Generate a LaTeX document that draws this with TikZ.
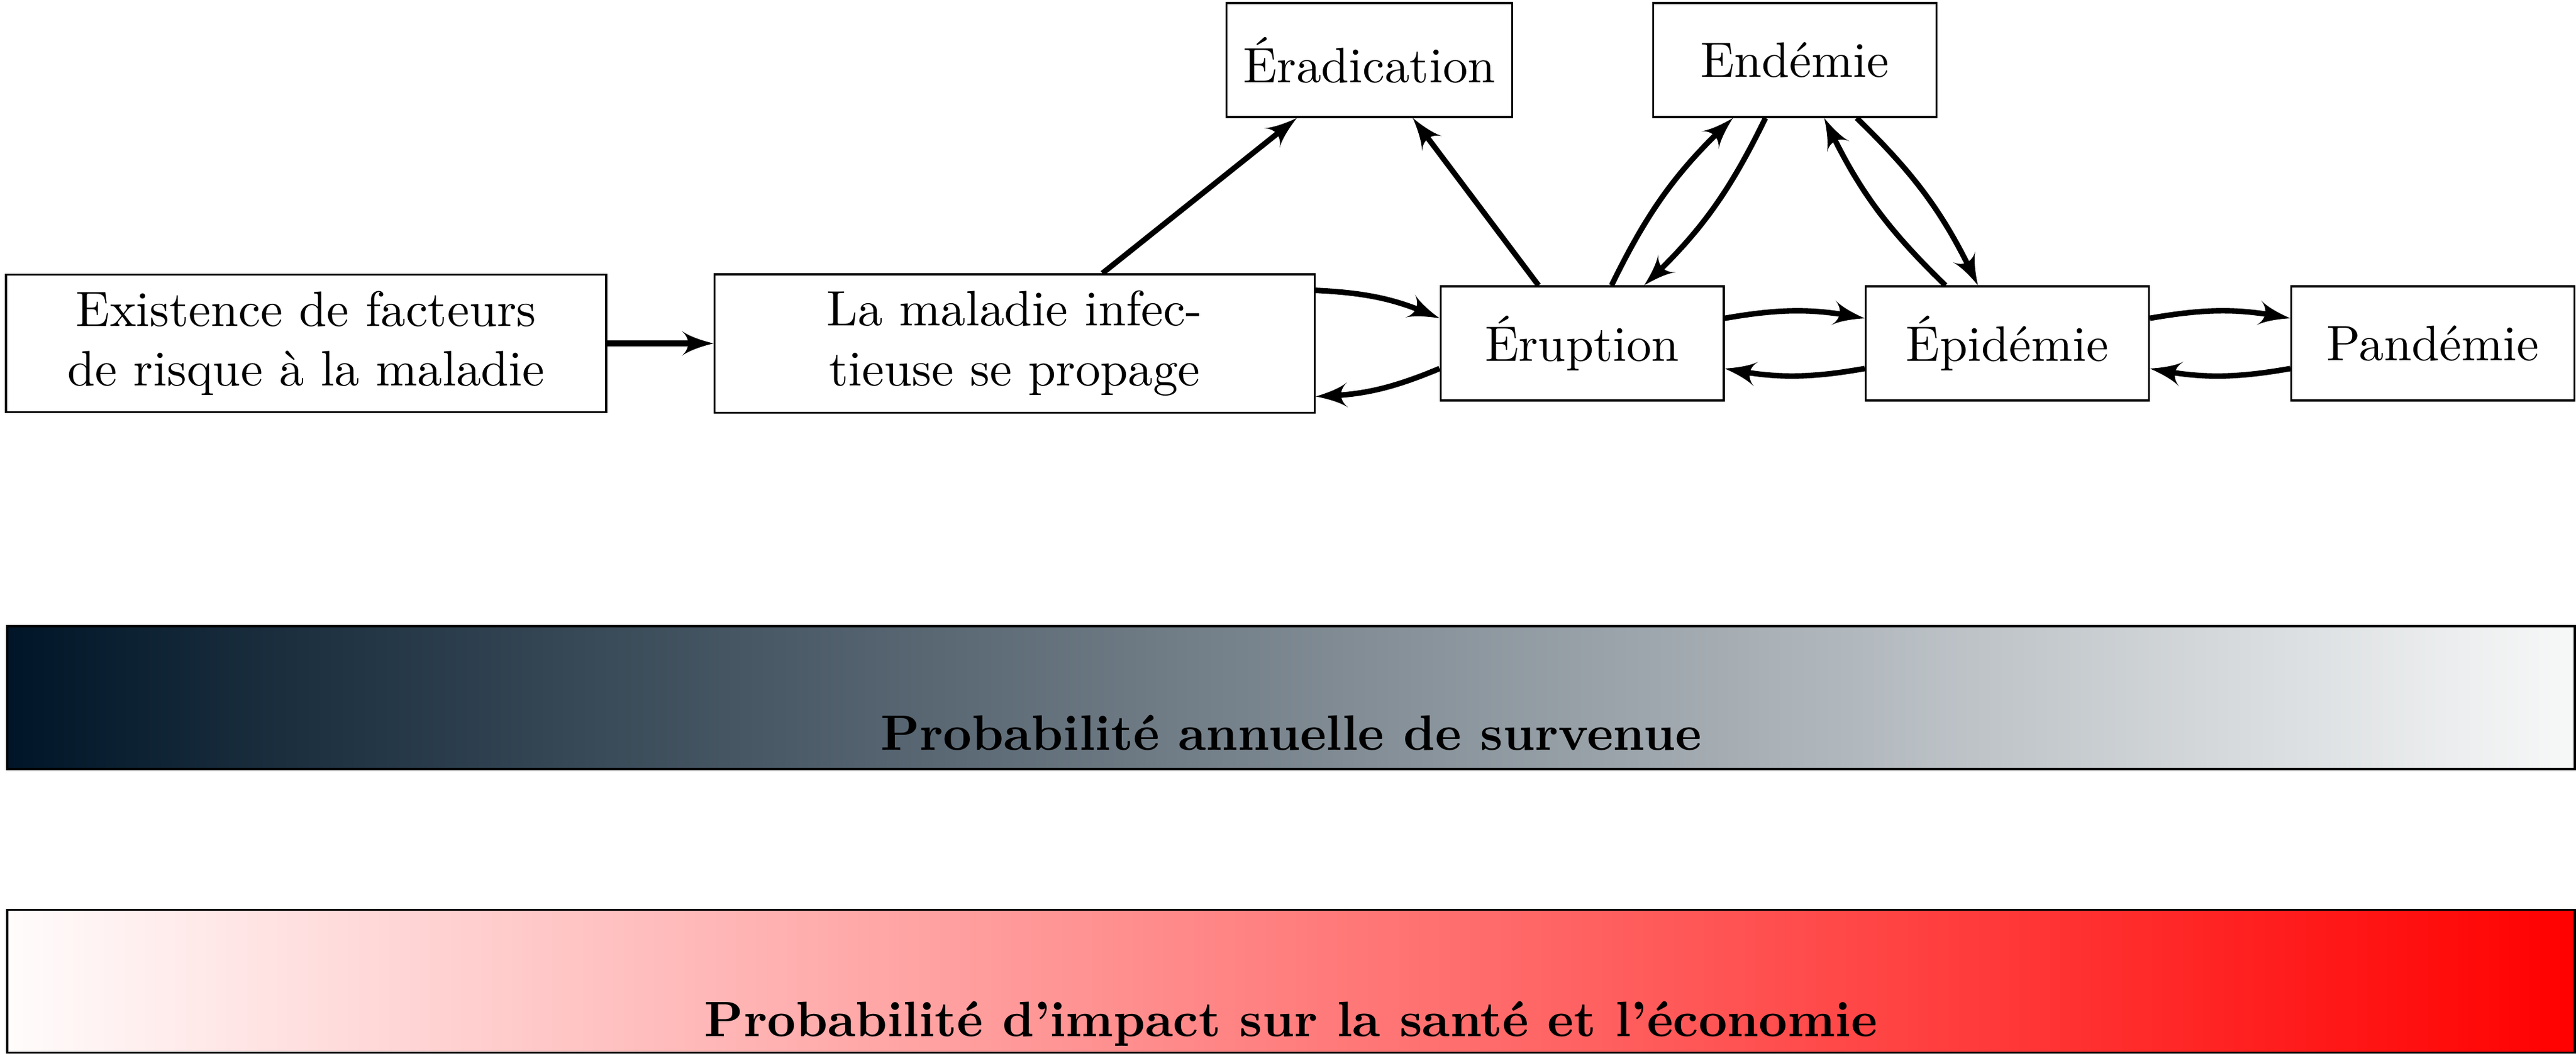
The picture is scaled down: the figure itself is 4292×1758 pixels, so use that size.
\documentclass[tikz,border=0pt]{standalone}
\usepackage{fontspec}
\usetikzlibrary{arrows}
\definecolor{navydark}{RGB}{0,22,40}
\definecolor{palegrey}{RGB}{247,248,248}
\definecolor{palered}{RGB}{255,252,252}
\pgfarrowsdeclare{cstealth}{cstealth}
{\pgfarrowsleftextend{-3.4pt}\pgfarrowsrightextend{3pt}}
{%
  \pgfsetdash{}{0pt}%
  \pgfpathmoveto{\pgfpoint{3pt}{0pt}}%
  \pgfpathcurveto{\pgfpoint{1.5pt}{0.35pt}}{\pgfpoint{-1.6pt}{1.2pt}}{\pgfpoint{-3.4pt}{2.5pt}}%
  \pgfpathcurveto{\pgfpoint{-1.7pt}{1pt}}{\pgfpoint{-1.7pt}{-1pt}}{\pgfpoint{-3.4pt}{-2.5pt}}%
  \pgfpathcurveto{\pgfpoint{-1.6pt}{-1.2pt}}{\pgfpoint{1.5pt}{-0.35pt}}{\pgfpoint{3pt}{0pt}}%
  \pgfpathclose
  \pgfusepathqfill
}
\tikzset{
  box/.style={draw, line width=0.4pt, align=center},
  bigbox/.style={box, minimum width=120.6pt, minimum height=27.6pt},
  smallbox/.style={box, minimum width=56.9pt, minimum height=22.9pt},
  arr/.style={line width=1.1pt, -cstealth},
  bar/.style={draw, line width=0.4pt, minimum width=516.1pt, minimum height=28.7pt, inner sep=0pt},
  barlabel/.style={anchor=base, font=\bfseries},
}
\begin{document}
\begin{tikzpicture}[x=0.12063pt, y=0.12063pt]
\useasboundingbox (0,0) rectangle (4292,-1758);
% top row
\node[bigbox] (exist) at (510,-572) {Existence de facteurs\\de risque à la maladie};
\node[bigbox] (maladie) at (1690.5,-572) {La maladie infec-\\tieuse se propage};
\node[smallbox] (erup) at (2636,-572) {Éruption};
\node[smallbox] (epid) at (3344.5,-572) {Épidémie};
\node[smallbox] (pand) at (4053.5,-572) {Pandémie};
\node[smallbox] (erad) at (2281.5,-100) {Éradication};
\node[smallbox] (endem) at (2990.5,-100) {Endémie};
% connectors
\draw[arr] (exist) -- (maladie);
\draw[arr] (maladie) -- (erad);
\draw[arr] (erup) -- (erad);
\draw[arr] (maladie) to[bend left=10] (erup);
\draw[arr] (erup) to[bend left=10] (maladie);
\draw[arr] (erup) to[bend left=10] (epid);
\draw[arr] (epid) to[bend left=10] (erup);
\draw[arr] (epid) to[bend left=10] (pand);
\draw[arr] (pand) to[bend left=10] (epid);
\draw[arr] (erup) to[bend left=10] (endem);
\draw[arr] (endem) to[bend left=10] (erup);
\draw[arr] (epid) to[bend left=10] (endem);
\draw[arr] (endem) to[bend left=10] (epid);
% bars
\node[bar, left color=navydark, right color=palegrey] (bar1) at (2151,-1162) {};
\node[bar, left color=palered, right color=red] (bar2) at (2151,-1634.5) {};
\node[barlabel] (lab1) at (2151,-1249) {Probabilité annuelle de survenue};
\node[barlabel] (lab2) at (2151,-1726) {Probabilité d’impact sur la santé et l’économie};
\end{tikzpicture}
\end{document}
